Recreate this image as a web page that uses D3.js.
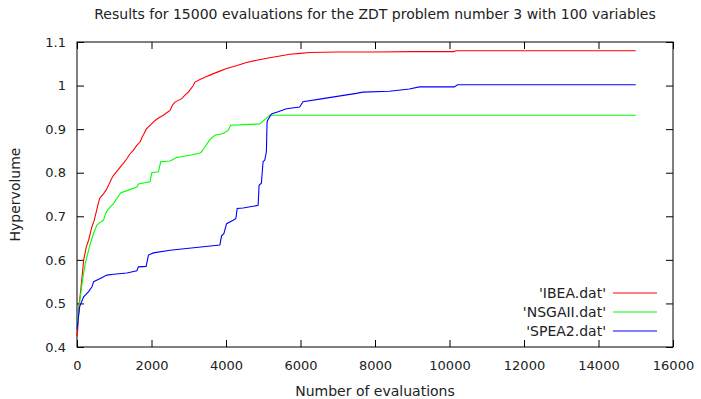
<html>
<head>
<meta charset="UTF-8">
<title>ZDT3 hypervolume</title>
<script src="https://d3js.org/d3.v7.min.js"></script>
<style>
  body { margin: 0; background: #fff; }
  svg { display: block; background: #fff; }
  text { font-family: "DejaVu Sans", sans-serif; fill: #222; }
  .tick text { font-size: 13px; }
  .tick line { stroke: #000; }
  .label { font-size: 14px; }
  .title { font-size: 14px; }
  .legend { font-size: 14px; }
</style>
</head>
<body>
<svg width="701" height="399"></svg>
<script>
// [evaluations, hypervolume]
var ibea = [[0,0.425],[20,0.44],[60,0.5],[100,0.53],[180,0.6],[250,0.63],[312,0.645],[400,0.676],[460,0.69],[517,0.71],[560,0.725],[607,0.741],[714,0.752],[780,0.76],[847,0.771],[920,0.785],[981,0.794],[1070,0.803],[1160,0.813],[1250,0.822],[1338,0.832],[1420,0.843],[1516,0.852],[1600,0.862],[1695,0.871],[1750,0.882],[1802,0.89],[1860,0.9],[1918,0.905],[2000,0.912],[2096,0.92],[2200,0.926],[2319,0.932],[2400,0.937],[2498,0.943],[2560,0.955],[2631,0.962],[2720,0.966],[2810,0.97],[2900,0.978],[2988,0.985],[3060,0.993],[3122,1.0],[3167,1.008],[3300,1.014],[3479,1.021],[3568,1.024],[3800,1.032],[4014,1.039],[4300,1.046],[4549,1.053],[4818,1.058],[5174,1.064],[5450,1.068],[5709,1.072],[6000,1.074],[6244,1.076],[7000,1.077],[8000,1.077],[9000,1.078],[10100,1.078],[10200,1.08],[12000,1.08],[15000,1.08]];

var nsgaii = [[0,0.44],[20,0.46],[89,0.515],[150,0.555],[223,0.592],[290,0.615],[357,0.637],[440,0.66],[535,0.68],[600,0.685],[714,0.691],[760,0.705],[821,0.714],[900,0.722],[981,0.729],[1080,0.742],[1178,0.754],[1383,0.76],[1606,0.767],[1650,0.774],[1962,0.779],[2007,0.8],[2185,0.802],[2248,0.825],[2498,0.827],[2676,0.835],[3033,0.84],[3301,0.845],[3345,0.848],[3435,0.859],[3568,0.876],[3702,0.886],[3925,0.89],[4059,0.897],[4122,0.909],[4906,0.912],[5041,0.922],[5174,0.932],[15000,0.932]];

var spea2 = [[0,0.44],[18,0.454],[71,0.492],[178,0.515],[312,0.527],[401,0.538],[446,0.55],[624,0.557],[803,0.565],[981,0.567],[1338,0.57],[1606,0.575],[1650,0.584],[1855,0.585],[1918,0.611],[2052,0.616],[2498,0.622],[2944,0.626],[3390,0.63],[3836,0.634],[3881,0.655],[3943,0.66],[4015,0.683],[4193,0.691],[4265,0.695],[4300,0.718],[4460,0.719],[4862,0.725],[4888,0.771],[4950,0.776],[4995,0.825],[5041,0.829],[5084,0.848],[5103,0.917],[5129,0.922],[5220,0.935],[5397,0.94],[5622,0.947],[5978,0.951],[6066,0.963],[6601,0.97],[7496,0.982],[7673,0.985],[8387,0.987],[8922,0.992],[9190,0.997],[10127,0.997],[10216,1.002],[15000,1.002]];

var seriesNames = ["'IBEA.dat'", "'NSGAII.dat'", "'SPEA2.dat'"];
var seriesColors = ["#ff0000", "#00ff00", "#0000ff"];
var xTicks = [0, 2000, 4000, 6000, 8000, 10000, 12000, 14000, 16000];
var yTicks = [0.4, 0.5, 0.6, 0.7, 0.8, 0.9, 1.0, 1.1];

var svg = d3.select("svg");
var plotL = 77, plotR = 673, plotT = 42, plotB = 347;

var xScale = d3.scaleLinear().domain([0, 16000]).range([plotL, plotR]);
var yScale = d3.scaleLinear().domain([0.4, 1.1]).range([plotB, plotT]);
var fmtY = function (d) { return String(+d.toFixed(1)); };

// axes with ticks pointing inward, mirrored on top and right
svg.append("g")
    .attr("transform", "translate(0," + plotB + ")")
    .call(d3.axisBottom(xScale).tickValues(xTicks).tickFormat(d3.format("d")).tickSizeInner(-7).tickSizeOuter(0).tickPadding(14))
    .call(g => g.select(".domain").remove());

svg.append("g")
    .attr("transform", "translate(" + plotL + ",0)")
    .call(d3.axisLeft(yScale).tickValues(yTicks).tickFormat(fmtY).tickSizeInner(-7).tickSizeOuter(0).tickPadding(11))
    .call(g => g.select(".domain").remove());

svg.append("g")
    .attr("transform", "translate(0," + plotT + ")")
    .call(d3.axisTop(xScale).tickValues(xTicks).tickFormat("").tickSizeInner(-7).tickSizeOuter(0))
    .call(g => g.select(".domain").remove());

svg.append("g")
    .attr("transform", "translate(" + plotR + ",0)")
    .call(d3.axisRight(yScale).tickValues(yTicks).tickFormat("").tickSizeInner(-7).tickSizeOuter(0))
    .call(g => g.select(".domain").remove());

// border
svg.append("rect")
    .attr("x", plotL)
    .attr("y", plotT)
    .attr("width", plotR - plotL)
    .attr("height", plotB - plotT)
    .attr("fill", "none")
    .attr("stroke", "#000")
    .attr("stroke-width", 1);

// lines
var line = d3.line()
    .x(d => xScale(d[0]))
    .y(d => yScale(d[1]));

[ibea, nsgaii, spea2].forEach(function (data, i) {
    svg.append("path")
        .datum(data)
        .attr("fill", "none")
        .attr("stroke", seriesColors[i])
        .attr("stroke-width", 1.1)
        .attr("d", line);
});

// legend
seriesNames.forEach(function (name, i) {
    var ly = 293 + i * 19;
    svg.append("text")
        .attr("class", "legend")
        .attr("x", 606)
        .attr("y", ly)
        .attr("dy", "0.35em")
        .attr("text-anchor", "end")
        .text(name);
    svg.append("line")
        .attr("x1", 613)
        .attr("x2", 657)
        .attr("y1", ly)
        .attr("y2", ly)
        .style("stroke", seriesColors[i])
        .attr("stroke-width", 1.1);
});

// titles
svg.append("text")
    .attr("class", "title")
    .attr("x", 375)
    .attr("y", 18.5)
    .attr("text-anchor", "middle")
    .text("Results for 15000 evaluations for the ZDT problem number 3 with 100 variables");

svg.append("text")
    .attr("class", "label")
    .attr("x", 375)
    .attr("y", 395.5)
    .attr("text-anchor", "middle")
    .text("Number of evaluations");

svg.append("text")
    .attr("class", "label")
    .attr("transform", "translate(20,194.5) rotate(-90)")
    .attr("text-anchor", "middle")
    .text("Hypervolume");
</script>
</body>
</html>
